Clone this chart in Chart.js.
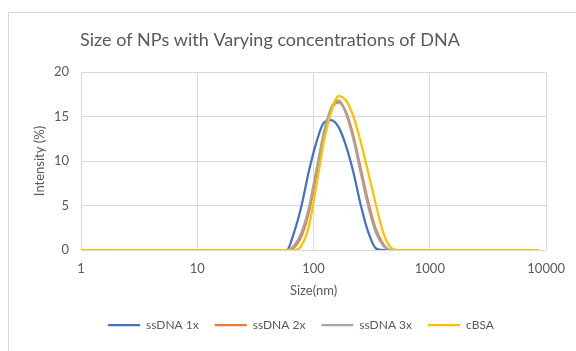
<!DOCTYPE html>
<html>
<head>
<meta charset="utf-8">
<script src="https://cdn.jsdelivr.net/npm/chart.js@4"></script>
<style>
  html, body { margin: 0; padding: 0; background: #fff; }
  #wrap { width: 576px; height: 351px; }
</style>
</head>
<body>
<div id="wrap"><canvas id="myChart" width="576" height="351"></canvas></div>
<script>
// sizes (nm), DLS bins
let sizes = [0.965, 1.117, 1.294, 1.499, 1.736, 2.010, 2.328, 2.696, 3.122, 3.615, 4.187, 4.849,
    5.615, 6.503, 7.531, 8.721, 10.10, 11.70, 13.54, 15.69, 18.17, 21.04, 24.36, 28.21, 32.67,
    37.84, 43.82, 50.75, 58.77, 68.06, 78.82, 91.28, 105.7, 122.4, 141.8, 164.2, 190.1, 220.2,
    255.0, 295.3, 342.0, 396.1, 458.7, 531.2, 615.1, 712.4, 825.0, 955.4, 1106, 1281, 1484,
    1718, 1990, 2305, 2669, 3091, 3580, 4145, 4801, 5560, 6439, 7456, 8635];

// intensity (%) over the peak region, starting at 58.77 nm; zero elsewhere
let peakStart = 28;
let ssDNA1x = [0, 2.0, 5.0, 8.9, 12.1, 14.3, 14.6, 13.8, 11.7, 8.7, 5.0, 2.0, 0.2, 0];
let ssDNA2x = [0, 0.3, 1.6, 4.3, 8.5, 12.8, 15.8, 16.6, 15.5, 12.8, 9.1, 5.4, 2.4, 0.7, 0];
let ssDNA3x = [0, 0.5, 2.0, 4.8, 9.0, 13.2, 16.0, 16.8, 15.3, 12.4, 8.6, 4.9, 2.0, 0.5, 0];
let cBSA    = [0, 0, 0.5, 2.7, 7.2, 12.1, 15.5, 17.3, 16.8, 15.0, 12.1, 8.7, 5.2, 2.0, 0.3, 0];

let seriesNames = ['ssDNA 1x', 'ssDNA 2x', 'ssDNA 3x', 'cBSA'];
let seriesColors = ['#4472C4', '#ED7D31', '#A5A5A5', '#FFC000'];
let xTicks = [1, 10, 100, 1000, 10000];
let yTicks = [0, 5, 10, 15, 20];
let chartTitle = 'Size of NPs with Varying concentrations of DNA';

function toPoints(vals) {
    return sizes.map(function(s, i) {
        let k = i - peakStart;
        let v = (k >= 0 && k < vals.length) ? vals[k] : 0;
        return { x: s, y: v };
    });
}

// chart frame + title (Excel centres the title on the whole chart box, which runs off the picture)
const frame = {
    id: 'frame',
    afterLayout: function(chart) {
        // nudge the legend a bit right, like Excel places it
        chart.legend.left += 27;
    },
    beforeDraw: function(chart) {
        let ctx = chart.ctx;
        ctx.save();
        ctx.strokeStyle = '#d9d9d9';
        ctx.lineWidth = 1;
        ctx.strokeRect(8.5, 12.5, 700, 500);
        ctx.fillStyle = '#595959';
        ctx.font = '18px Lato';
        ctx.textAlign = 'center';
        ctx.textBaseline = 'middle';
        ctx.fillText(chartTitle, 270, 40);
        ctx.restore();
    }
};

const allSeries = [ssDNA1x, ssDNA2x, ssDNA3x, cBSA];

const data = {
    datasets: allSeries.map(function(vals, i) {
        return {
            label: seriesNames[i],
            data: toPoints(vals),
            borderColor: seriesColors[i],
            backgroundColor: seriesColors[i],
            borderWidth: 2.25,
            pointRadius: 0,
            cubicInterpolationMode: 'monotone',
            order: 3 - i
        };
    })
};

const tickFont = { family: 'Lato', size: 13 };

const config = {
    type: 'line',
    data: data,
    plugins: [frame],
    options: {
        responsive: false,
        animation: false,
        layout: { padding: { left: 28, right: 29, top: 72, bottom: 10 } },
        plugins: {
            title: { display: false },
            legend: {
                position: 'bottom',
                labels: {
                    color: '#595959',
                    font: { family: 'Lato', size: 12 },
                    usePointStyle: true,
                    pointStyle: 'line',
                    pointStyleWidth: 32,
                    boxHeight: 12,
                    padding: 16,
                    sort: function(a, b) { return a.datasetIndex - b.datasetIndex; }
                }
            },
            tooltip: { enabled: false }
        },
        scales: {
            x: {
                type: 'logarithmic',
                min: 1,
                max: 10000,
                afterBuildTicks: function(scale) {
                    scale.ticks = xTicks.map(function(v) { return { value: v }; });
                },
                ticks: {
                    color: '#595959',
                    font: tickFont,
                    maxRotation: 0,
                    padding: 11,
                    callback: function(v) { return String(v); }
                },
                grid: { color: '#d9d9d9', drawTicks: false },
                border: { display: false },
                title: {
                    display: true,
                    text: 'Size(nm)',
                    color: '#595959',
                    font: { family: 'Lato', size: 13 },
                    padding: { top: 3 }
                },
                afterFit: function(scale) { scale.height = 53; }
            },
            y: {
                min: 0,
                max: 20,
                afterBuildTicks: function(scale) {
                    scale.ticks = yTicks.map(function(v) { return { value: v }; });
                },
                ticks: { color: '#595959', font: tickFont, padding: 12 },
                grid: { color: '#d9d9d9', drawTicks: false },
                border: { display: false },
                title: {
                    display: true,
                    text: 'Intensity (%)',
                    color: '#595959',
                    font: { family: 'Lato', size: 13 }
                },
                afterFit: function(scale) { scale.width = 53; }
            }
        }
    }
};

const myChart = new Chart(document.getElementById('myChart'), config);
</script>
</body>
</html>
